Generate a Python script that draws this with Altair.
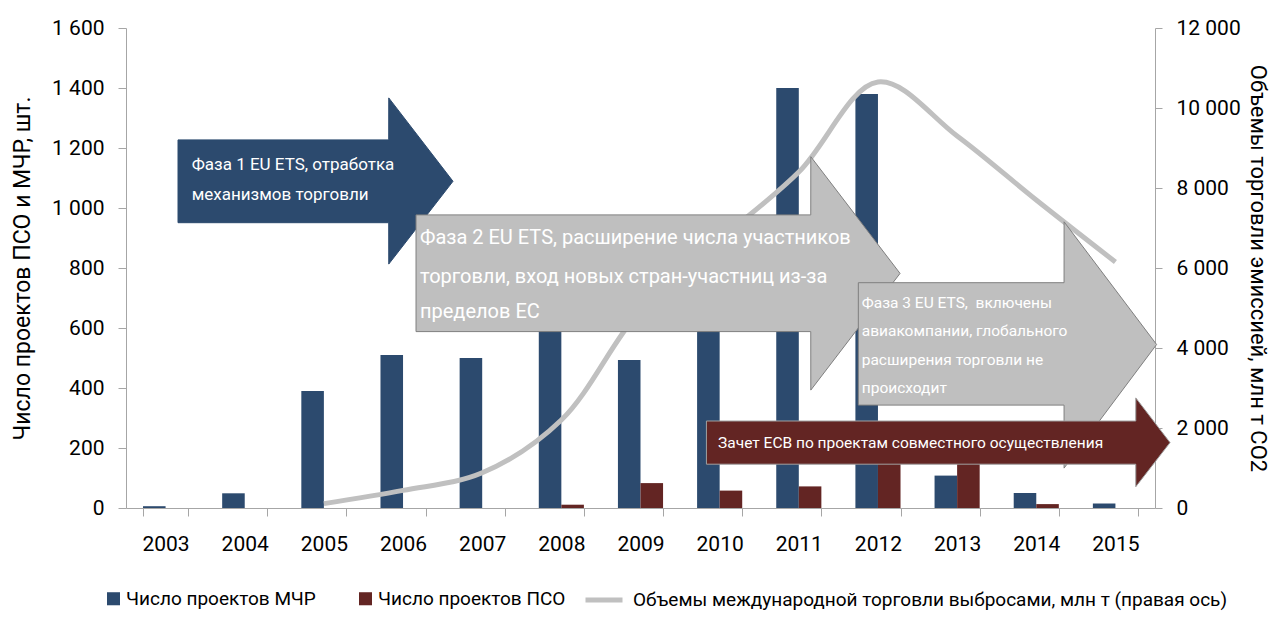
import altair as alt
import pandas as pd

# ---------------- data ----------------
years = [str(y) for y in range(2003, 2016)]
cdm_projects = [6, 49, 390, 510, 500, 780, 493, 820, 1400, 1380, 108, 50, 15]
ji_projects = [0, 0, 0, 0, 0, 11, 83, 58, 72, 240, 180, 13, 0]
trade_years = [str(y) for y in range(2005, 2016)]
trade_volume = [110, 440, 880, 2200, 4950, 6700, 8400, 10650, 9300, 7700, 6150]

S_CDM = "Число проектов МЧР"
S_JI = "Число проектов ПСО"
S_TRADE = "Объемы международной торговли выбросами, млн т (правая ось)"

left_ticks = list(range(0, 1601, 200))
right_ticks = list(range(0, 12001, 2000))

# annotation arrows (in year-index / left-axis units)
arrow_specs = {
    "phase1": dict(L=0.657, H=3.319, T=4.131, bt=1227, bb=951, ht=1367, hb=813, tip=1089,
                   fill="#2C4A6E", stroke="#2C4A6E"),
    "phase2": dict(L=3.664, H=8.651, T=9.779, bt=977, bb=588, ht=1171, hb=393, tip=782,
                   fill="#BFBFBF", stroke="#7F7F7F"),
    "phase3": dict(L=9.252, H=11.851, T=13.02, bt=751, bb=343, ht=954, hb=133, tip=545,
                   fill="#BFBFBF", stroke="#7F7F7F"),
    "ji": dict(L=7.333, H=12.757, T=13.19, bt=290, bb=146, ht=367, hb=71, tip=218,
               fill="#632523", stroke="#A0A0A0"),
}

arrow_texts = [
    ("Фаза 1 EU ETS, отработка", 0.83, 1143, 17),
    ("механизмов торговли", 0.83, 1043, 17),
    ("Фаза 2 EU ETS, расширение числа участников", 3.714, 900, 20),
    ("торговли, вход новых стран-участниц из-за", 3.714, 771, 20),
    ("пределов ЕС", 3.714, 654, 20),
    ("Фаза 3 EU ETS,\u00a0 включены", 9.295, 683, 15.5),
    ("авиакомпании, глобального", 9.295, 590, 15.5),
    ("расширения торговли не", 9.295, 493, 15.5),
    ("происходит", 9.295, 400, 15.5),
    ("Зачет ЕСВ по проектам совместного осуществления", 7.48, 217, 15.5),
]

FONT = "Roboto"
AXIS_GRAY = "#A6A6A6"
W, H = 1029, 480
EPS = 0.0005

# ---------------- frames ----------------
bars_df = pd.DataFrame({
    "year": years * 2,
    "series": [S_CDM] * len(years) + [S_JI] * len(years),
    "value": cdm_projects + ji_projects,
})
line_df = pd.DataFrame({"year": trade_years, "value": trade_volume, "series": S_TRADE})

xscale = alt.Scale(domain=years, paddingInner=0.43, paddingOuter=0.215)
num_expr = "replace(format(datum.value, ','), ',', ' ')"

bars = alt.Chart(bars_df).mark_bar().encode(
    x=alt.X("year:N", scale=xscale, title=None,
            axis=alt.Axis(tickBand="extent", labelAngle=0, tickSize=8, labelPadding=17,
                          domainColor=AXIS_GRAY, tickColor=AXIS_GRAY, labelFontSize=21,
                          labelColor="#000000")),
    xOffset=alt.XOffset("series:N", scale=alt.Scale(domain=[S_CDM, S_JI], paddingInner=0, paddingOuter=0)),
    y=alt.Y("value:Q", scale=alt.Scale(domain=[0, 1600], nice=False),
            title="Число проектов ПСО и МЧР, шт.",
            axis=alt.Axis(values=left_ticks, labelExpr=num_expr, grid=False, tickSize=8,
                          labelPadding=14, domainColor=AXIS_GRAY, tickColor=AXIS_GRAY,
                          labelFontSize=21, titleFontSize=23, titleFontWeight="normal",
                          titlePadding=17, labelColor="#000000", titleColor="#000000")),
    color=alt.Color("series:N", scale=alt.Scale(domain=[S_CDM, S_JI], range=["#2C4A6E", "#632523"]),
                    legend=alt.Legend(orient="none", legendX=-22, legendY=561, direction="horizontal",
                                      title=None, symbolType="square", symbolSize=170,
                                      labelFontSize=19, labelOffset=3, columnPadding=40,
                                      labelColor="#000000", labelLimit=400)),
)

line = alt.Chart(line_df).mark_line(strokeWidth=5, interpolate="catmull-rom").encode(
    x=alt.X("year:N", scale=xscale, axis=None),
    y=alt.Y("value:Q", scale=alt.Scale(domain=[0, 12000], nice=False),
            title="Объемы торговли эмиссией, млн т CO2",
            axis=alt.Axis(orient="right", values=right_ticks, labelExpr=num_expr, grid=False,
                          tickSize=7, labelPadding=14, domainColor=AXIS_GRAY, tickColor=AXIS_GRAY,
                          labelFontSize=21, titleFontSize=22, titleFontWeight="normal",
                          titlePadding=5, labelColor="#000000", titleColor="#000000")),
    color=alt.Color("series:N", scale=alt.Scale(domain=[S_TRADE], range=["#C0C0C0"]),
                    legend=alt.Legend(orient="none", legendX=457, legendY=551, title=None,
                                      symbolType="stroke", symbolSize=1369, symbolStrokeWidth=5,
                                      labelFontSize=19, labelOffset=8, labelColor="#000000",
                                      labelLimit=800)),
)

ax_x = alt.Scale(domain=[0, 13], nice=False, zero=False)
ax_y = alt.Scale(domain=[0, 1600], nice=False)

arrow_layers = []
for name, a in arrow_specs.items():
    df = pd.DataFrame({
        "ax": [a["L"], a["H"], a["H"] + EPS, a["T"]],
        "ay": [a["bt"], a["bt"], a["ht"], a["tip"]],
        "ay2": [a["bb"], a["bb"], a["hb"], a["tip"]],
    })
    arrow_layers.append(
        alt.Chart(df).mark_area(fill=a["fill"], stroke=a["stroke"], strokeWidth=1,
                                opacity=1, fillOpacity=1, clip=False, interpolate="linear",
                                orient="vertical").encode(
            x=alt.X("ax:Q", scale=ax_x, axis=None),
            y=alt.Y("ay:Q", scale=ax_y, axis=None, stack=None),
            y2="ay2:Q",
        )
    )

text_df = pd.DataFrame(arrow_texts, columns=["txt", "tx", "ty", "fs"])
texts = alt.Chart(text_df).mark_text(align="left", baseline="middle", color="#FFFFFF",
                                     font=FONT).encode(
    x=alt.X("tx:Q", scale=ax_x, axis=None),
    y=alt.Y("ty:Q", scale=ax_y, axis=None),
    text="txt:N",
    size=alt.Size("fs:Q", scale=None, legend=None),
)

annot = alt.layer(*arrow_layers, texts)

chart = alt.layer(bars, line, annot).resolve_scale(
    x="independent", y="independent", color="independent"
).properties(
    width=W, height=H,
    autosize=alt.AutoSizeParams(type="none"),
    padding={"left": 118, "top": 20, "right": 119, "bottom": 105},
).configure_view(stroke=None).configure_axis(
    labelFont=FONT, titleFont=FONT
).configure_legend(labelFont=FONT).configure_text(font=FONT)

chart.save("out.html", embed_options={"renderer": "svg", "actions": False})
